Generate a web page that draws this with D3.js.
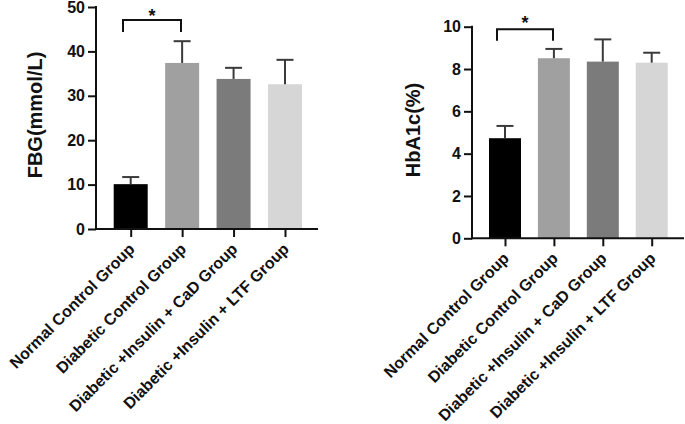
<!DOCTYPE html>
<html><head><meta charset="utf-8">
<script src="https://cdn.jsdelivr.net/npm/d3@7"></script>
<style>body{margin:0;background:#fff}svg{display:block}</style>
</head><body>
<svg id="c" width="685" height="424"></svg>
<script>
const categories = ["Normal Control Group","Diabetic Control Group","Diabetic +Insulin + CaD Group","Diabetic +Insulin + LTF Group"];
const barColors = ["#000000","#a0a0a0","#7b7b7b","#d6d6d6"];
const fbgMean = [10.1, 37.4, 33.8, 32.6];
const fbgErr  = [1.6, 4.9, 2.5, 5.5];
const fbgTicks = [0,10,20,30,40,50];
const hbaMean = [4.73, 8.51, 8.35, 8.3];
const hbaErr  = [0.58, 0.44, 1.05, 0.47];
const hbaTicks = [0,2,4,6,8,10];

const svg = d3.select("#c");
const FONT = "'Liberation Sans', Arial, sans-serif";

function panel(o){
  const g = svg.append("g");
  const y = d3.scaleLinear().domain([0, o.ymax]).range([o.y0, o.y1]);
  const x = d3.scalePoint().domain(categories).range([o.c0, o.c1]);
  // bars
  g.selectAll("rect.bar").data(o.mean).join("rect")
    .attr("x",(d,i)=>x(categories[i])-o.bw/2).attr("width",o.bw)
    .attr("y",d=>y(d)).attr("height",d=>y(0)-y(d))
    .attr("fill",(d,i)=>barColors[i]);
  // error bars
  const eg = g.selectAll("g.err").data(o.mean).join("g").attr("stroke","#3a3a3a").attr("stroke-width",2);
  eg.append("line").attr("x1",(d,i)=>x(categories[i])).attr("x2",(d,i)=>x(categories[i]))
    .attr("y1",d=>y(d)).attr("y2",(d,i)=>y(d+o.err[i]));
  eg.append("line").attr("x1",(d,i)=>x(categories[i])-o.cap/2).attr("x2",(d,i)=>x(categories[i])+o.cap/2)
    .attr("y1",(d,i)=>y(d+o.err[i])).attr("y2",(d,i)=>y(d+o.err[i]));
  // y axis
  const ya = g.append("g").attr("transform",`translate(${o.ax},0)`)
    .call(d3.axisLeft(y).tickValues(o.ticks).tickSize(8).tickPadding(3).tickSizeOuter(0));
  ya.select(".domain").attr("stroke","#111").attr("stroke-width",2).attr("d",`M0,${y(0)+1}V${y(o.ymax)-1}`);
  ya.selectAll(".tick line").attr("stroke","#111").attr("stroke-width",2);
  ya.selectAll(".tick text").attr("font-family",FONT).attr("font-weight","bold").attr("font-size",16).attr("fill","#111");
  // x axis
  const xa = g.append("g").attr("transform",`translate(0,${y(0)})`)
    .call(d3.axisBottom(x).tickSize(8).tickSizeOuter(0).tickFormat(""));
  xa.select(".domain").attr("stroke","#111").attr("stroke-width",2).attr("d",`M${o.ax-1},0H${o.xend}`);
  xa.selectAll(".tick line").attr("stroke","#111").attr("stroke-width",2);
  g.selectAll("text.cat").data(categories).join("text").attr("class","cat")
    .attr("transform",d=>`translate(${x(d)+1},${y(0)+17}) rotate(-45)`)
    .attr("text-anchor","end").attr("dy","0.35em")
    .attr("font-family",FONT).attr("font-weight","bold").attr("font-size",16).attr("fill","#111")
    .text(d=>d);
  // y label
  g.append("text").attr("transform",`translate(${o.lx},${o.ly}) rotate(-90)`)
    .attr("text-anchor","middle").attr("dy","0.35em")
    .attr("font-family",FONT).attr("font-weight","bold").attr("font-size",20).attr("fill","#111")
    .text(o.label);
  // significance bracket
  g.append("path").attr("fill","none").attr("stroke","#111").attr("stroke-width",2)
    .attr("d",`M${o.bx0},${o.bLeg}V${o.bTop}H${o.bx1}V${o.bLeg}`);
  g.append("text").attr("x",(o.bx0+o.bx1)/2).attr("y",o.starY)
    .attr("text-anchor","middle").attr("font-family",FONT).attr("font-weight","bold").attr("font-size",18).attr("fill","#111")
    .text("*");
}

panel({ymax:50, y0:229, y1:7, c0:130.7, c1:285, bw:34, cap:17, ax:96, xend:318,
  mean:fbgMean, err:fbgErr, ticks:fbgTicks, label:"FBG(mmol/L)", lx:35, ly:115,
  bx0:123, bx1:181, bTop:20, bLeg:32, starY:22});
panel({ymax:10, y0:238.3, y1:26.7, c0:505, c1:651.7, bw:32, cap:17, ax:472, xend:684,
  mean:hbaMean, err:hbaErr, ticks:hbaTicks, label:"HbA1c(%)", lx:413, ly:130,
  bx0:497, bx1:553, bTop:29.3, bLeg:40.7, starY:29});
</script>
</body></html>
